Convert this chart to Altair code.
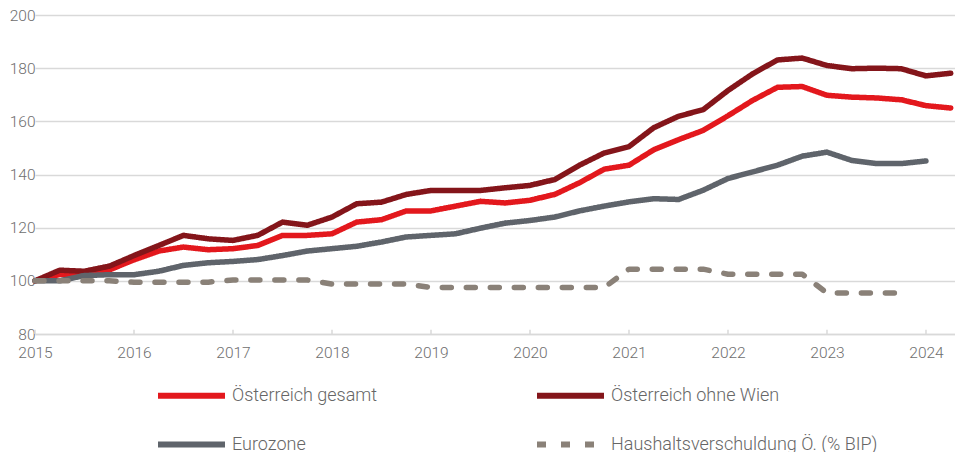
import altair as alt
import pandas as pd

series_names = ["Österreich gesamt", "Österreich ohne Wien", "Eurozone", "Haushaltsverschuldung Ö. (% BIP)"]
colors = ["#e3181d", "#84151a", "#5f646b", "#8a8178"]

start_year = 2015
# quarterly values, 2015 Q1 onwards
oe_gesamt = [100, 102.4, 102.4, 104.1, 107.9, 111.2, 112.7, 111.7, 112.1, 113.3, 117.1, 117.1,
             117.7, 122.1, 123.0, 126.3, 126.3, 128.1, 129.9, 129.3, 130.3, 132.5, 136.9, 142.0,
             143.5, 149.3, 153.1, 156.6, 162.1, 167.9, 172.8, 173.1, 169.8, 169.1, 168.8, 168.1,
             165.9, 165.0]
oe_ohne_wien = [100, 104.0, 103.6, 105.5, 109.5, 113.3, 117.1, 115.8, 115.2, 117.1, 122.1, 120.9,
                124.0, 129.0, 129.6, 132.5, 134.0, 134.0, 134.0, 135.0, 135.9, 138.1, 143.5, 148.1,
                150.5, 157.6, 161.9, 164.4, 171.6, 177.9, 183.1, 183.8, 181.0, 179.8, 180.0, 179.8,
                177.1, 178.1]
eurozone = [100, 100.0, 102.0, 102.3, 102.3, 103.6, 105.8, 106.8, 107.3, 108.0, 109.5, 111.2,
            112.1, 113.0, 114.6, 116.5, 117.1, 117.7, 119.8, 121.7, 122.7, 124.0, 126.3, 128.1,
            129.7, 130.9, 130.6, 134.1, 138.5, 141.0, 143.5, 146.9, 148.4, 145.3, 144.1, 144.1,
            145.1]
haushalt_annual = [100.0, 99.5, 100.3, 98.8, 97.5, 97.5, 104.4, 102.5, 95.4]

haushalt = [v for v in haushalt_annual for _ in range(4)]

rows = []
for name, vals in zip(series_names, [oe_gesamt, oe_ohne_wien, eurozone, haushalt]):
    for k, v in enumerate(vals):
        rows.append({"t": start_year + k * 0.25, "v": v, "s": name, "d": name})
df = pd.DataFrame(rows)

year_ticks = list(range(2015, 2025))
y_ticks = [80, 100, 120, 140, 160, 180, 200]
tick_df = pd.DataFrame({"t": year_ticks, "y0": [80] * len(year_ticks), "y1": [81.6] * len(year_ticks)})

FONT = "Roboto"
LABEL_COLOR = "#6e6e6e"
GRID = "#d9d9d9"

x_scale = alt.Scale(domain=[2015, 2024.293], nice=False, zero=False)
y_scale = alt.Scale(domain=[80, 200], nice=False, zero=False)

legend_kw = dict(title=None, orient="none", legendX=120, legendY=344,
                 direction="horizontal",
                 columns=2, columnPadding=147, rowPadding=-30,
                 symbolType="stroke", symbolSize=4489,
                 symbolStrokeWidth=6, labelFontSize=18,
                 labelFont=FONT, labelFontWeight=300,
                 labelColor="#666666", labelOffset=4,
                 labelLimit=400)

dash_sig = "datum.value === '" + series_names[3] + "' ? [13, 11] : [1, 0]"


def build(use_encode):
    kw = dict(legend_kw)
    dash_field = "s:N"
    if use_encode:
        kw["encode"] = {"symbols": {"update": {"strokeDash": {"signal": dash_sig},
                                               "strokeCap": {"value": "round"}}}}
        dash_field = "d:N"
    lines = alt.Chart(df).mark_line(strokeWidth=5.5, strokeCap="round", strokeJoin="round").encode(
        x=alt.X("t:Q", scale=x_scale,
                axis=alt.Axis(values=year_ticks, format="d", title=None, grid=False,
                              domainColor=GRID, domainWidth=1.5, ticks=False,
                              labelPadding=11, labelFontSize=15.5,
                              labelColor=LABEL_COLOR, labelFont=FONT, labelFontWeight=300,
                              labelFlush=False)),
        y=alt.Y("v:Q", scale=y_scale,
                axis=alt.Axis(values=y_ticks, title=None, domain=False, ticks=False,
                              gridColor=GRID, gridWidth=1.5, labelPadding=0,
                              labelFontSize=15.5, labelColor=LABEL_COLOR, labelFont=FONT,
                              labelFontWeight=300)),
        color=alt.Color("s:N", scale=alt.Scale(domain=series_names, range=colors),
                        legend=alt.Legend(**kw)),
        strokeDash=alt.StrokeDash(dash_field, scale=alt.Scale(domain=series_names,
                                                              range=[[1, 0], [1, 0], [1, 0], [9, 15]]),
                                  legend=None),
        order="t:Q",
    )

    ticks = alt.Chart(tick_df).mark_rule(color=GRID, strokeWidth=1.5).encode(
        x=alt.X("t:Q", scale=x_scale),
        y=alt.Y("y0:Q", scale=y_scale),
        y2="y1:Q",
    )

    c = alt.layer(ticks, lines).properties(
        width=920, height=319,
        autosize=alt.AutoSizeParams(type="none"),
        padding={"left": 27, "top": 7, "right": 0, "bottom": 118},
    ).configure_view(stroke=None)
    c.to_dict()
    return c


try:
    chart = build(True)
except Exception:
    chart = build(False)

chart.save("out.html", embed_options={"renderer": "svg", "actions": False})
